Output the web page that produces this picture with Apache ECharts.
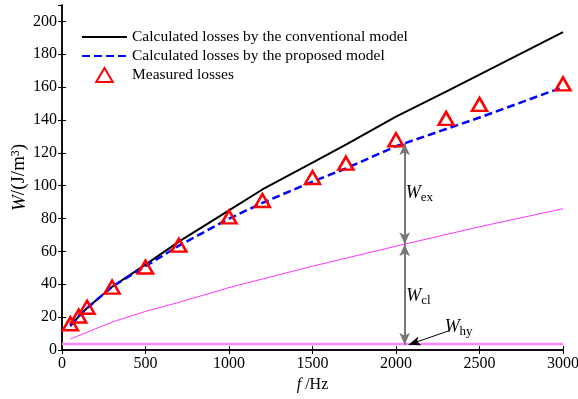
<!DOCTYPE html>
<html>
<head>
<meta charset="utf-8">
<script src="https://cdn.jsdelivr.net/npm/echarts@6/dist/echarts.min.js"></script>
<style>
  html, body { margin: 0; padding: 0; background: #fff; }
  #main { width: 578px; height: 399px; }
</style>
</head>
<body>
<div id="main"></div>
<script>
// frequencies (Hz) where the model curves and measurements are sampled
const freqs = [50, 100, 150, 300, 500, 700, 1000, 1200, 1500, 1700, 2000, 2300, 2500, 3000];
const measured = [16, 20.7, 26, 38.3, 50.5, 63.8, 81, 91, 105, 113.7, 128, 141, 149.5, 162];
const conventional = [14.5, 20.5, 25.5, 38.5, 52, 66, 85, 97.7, 114, 125, 142, 157.3, 167.6, 193.5];
const proposed = [15, 20.5, 25.5, 38.5, 51, 63.5, 80, 89.5, 102.5, 110.5, 124, 134.5, 141.5, 160];

// loss components
const clFreqs = [50, 300, 500, 700, 1000, 1500, 2000, 2500, 3000];
const classical = [6.7, 17, 23.5, 29, 38, 51, 63.2, 75, 86];
const hyFreqs = [0, 3000];
const hysteresis = [3.6, 3.6];

const seriesNames = ['Calculated losses by the conventional model', 'Calculated losses by the proposed model', 'Measured losses'];

const pairs = (xs, ys) => xs.map((x, i) => [x, ys[i]]);
const serif = '"Liberation Serif", "Times New Roman", serif';

const chart = echarts.init(document.getElementById('main'));

const boxAxis = {
  type: 'value',
  axisLine: { show: true, lineStyle: { color: '#000', width: 1.5 } },
  axisTick: { show: true, inside: true, length: 4, lineStyle: { color: '#000', width: 1 } },
  splitLine: { show: false }
};

const option = {
  animation: false,
  backgroundColor: '#fff',
  textStyle: { fontFamily: serif },
  grid: { left: 62, right: 15, top: 5, bottom: 49, containLabel: false, outerBoundsMode: 'none' },
  legend: {
    orient: 'vertical',
    left: 76,
    top: 24,
    itemWidth: 45,
    itemHeight: 14,
    itemGap: 3,
    symbolKeepAspect: true,
    textStyle: { fontFamily: serif, fontSize: 15.5, color: '#000' },
    data: [
      { name: seriesNames[0], itemStyle: { opacity: 0 } },
      { name: seriesNames[1], itemStyle: { opacity: 0 } },
      { name: seriesNames[2], icon: 'path://M0,11 L6.5,0 L13,11 Z' }
    ]
  },
  xAxis: [
    Object.assign({}, boxAxis, {
      min: 0, max: 3000, interval: 500,
      position: 'bottom',
      axisLabel: { fontFamily: serif, fontSize: 16, color: '#000', margin: 6, formatter: v => String(v) },
      name: '{i|f}{n| /Hz}',
      nameLocation: 'middle',
      nameMoveOverlap: false,
      nameGap: 27,
      nameTextStyle: {
        rich: {
          i: { fontFamily: serif, fontSize: 16, fontStyle: 'italic', color: '#000' },
          n: { fontFamily: serif, fontSize: 16, color: '#000' }
        }
      }
    }),
    Object.assign({}, boxAxis, {
      min: 0, max: 3000, interval: 500,
      position: 'top',
      axisLabel: { show: false }
    })
  ],
  yAxis: [
    Object.assign({}, boxAxis, {
      min: 0, max: 210, interval: 20,
      position: 'left',
      axisLabel: { fontFamily: serif, fontSize: 16, color: '#000', margin: 5, showMaxLabel: false, formatter: v => String(v) },
      name: '{i|W}{n|/(J/m³)}',
      nameLocation: 'middle',
      nameMoveOverlap: false,
      nameGap: 33,
      nameRotate: 90,
      nameTextStyle: {
        rich: {
          i: { fontFamily: serif, fontSize: 19, fontStyle: 'italic', color: '#000' },
          n: { fontFamily: serif, fontSize: 19, color: '#000' }
        }
      }
    }),
    Object.assign({}, boxAxis, {
      min: 0, max: 210, interval: 20,
      position: 'right',
      axisLabel: { show: false }
    })
  ],
  series: [
    {
      name: 'W_cl',
      type: 'line',
      data: pairs(clFreqs, classical),
      symbol: 'none',
      lineStyle: { color: '#ff33ff', width: 1 },
      z: 1
    },
    {
      name: 'W_hy',
      type: 'line',
      data: pairs(hyFreqs, hysteresis),
      symbol: 'none',
      lineStyle: { color: '#ff88ff', width: 2.5 },
      z: 1
    },
    {
      name: seriesNames[0],
      type: 'line',
      data: pairs(freqs, conventional),
      symbol: 'none',
      lineStyle: { color: '#000', width: 2 },
      z: 2
    },
    {
      name: seriesNames[1],
      type: 'line',
      data: pairs(freqs, proposed),
      symbol: 'none',
      lineStyle: { color: '#0000ff', width: 2.5, type: [8, 4] },
      z: 3
    },
    {
      name: seriesNames[2],
      type: 'scatter',
      data: pairs(freqs, measured),
      symbol: 'triangle',
      symbolSize: [15, 13],
      itemStyle: { color: 'rgba(255,255,255,0)', borderColor: '#ff0000', borderWidth: 2.5, opacity: 1 },
      z: 4
    },
    {
      // annotation arrows and labels
      name: 'annot',
      type: 'line',
      data: [],
      z: 5,
      markLine: {
        silent: true,
        symbol: ['arrow', 'arrow'],
        symbolSize: [8, 12],
        label: { show: false },
        lineStyle: { color: '#777', width: 2, type: 'solid' },
        data: [
          [{ coord: [2052, 125.8] }, { coord: [2052, 64.4] }],
          [{ coord: [2052, 64.4] }, { coord: [2052, 3.2] }],
          [
            { coord: [2320, 11.8], symbol: 'none', lineStyle: { color: '#000', width: 1 } },
            { coord: [2075, 3.2], symbol: 'arrow', symbolSize: [7, 12], lineStyle: { color: '#000', width: 1 } }
          ]
        ]
      },
      markPoint: {
        silent: true,
        symbol: 'circle',
        symbolSize: 0,
        label: {
          show: true,
          position: 'inside',
          rich: {
            i: { fontFamily: serif, fontSize: 18, fontStyle: 'italic', color: '#000' },
            s: { fontFamily: serif, fontSize: 13, color: '#000', padding: [9, 0, 0, 0] }
          }
        },
        data: [
          { coord: [2140, 95.5], label: { formatter: '{i|W}{s|ex}' } },
          { coord: [2135, 33], label: { formatter: '{i|W}{s|cl}' } },
          { coord: [2375, 14], label: { formatter: '{i|W}{s|hy}' } }
        ]
      }
    }
  ]
};

chart.setOption(option);
</script>
</body>
</html>
